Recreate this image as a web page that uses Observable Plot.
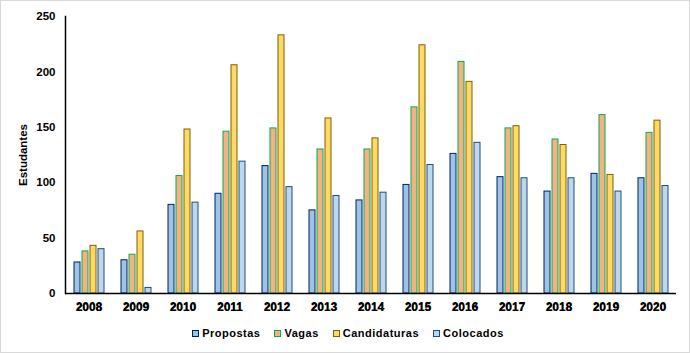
<!DOCTYPE html>
<html>
<head>
<meta charset="utf-8">
<script src="https://cdn.jsdelivr.net/npm/d3@7"></script>
<script src="https://cdn.jsdelivr.net/npm/@observablehq/plot@0.6"></script>
<style>
  html, body { margin: 0; padding: 0; background: #fff; }
  #wrap { position: relative; width: 690px; height: 353px; box-sizing: border-box; border: 1px solid #d9d9d9; background: #fff; font-family: "Liberation Sans", Arial, sans-serif; }
  #chart svg { display: block; }
  #legend { position: absolute; left: 0; top: 326px; width: 694px; display: flex; justify-content: center; align-items: center; font-weight: bold; font-size: 11px; letter-spacing: 0.5px; color: #000; }
  .item { display: flex; align-items: center; margin: 0 7px; }
  .sw { width: 5px; height: 5px; border: 1px solid; margin-right: 3px; }
</style>
</head>
<body>
<div id="wrap">
  <div id="chart"></div>
  <div id="legend"></div>
</div>
<script>
const years = ["2008","2009","2010","2011","2012","2013","2014","2015","2016","2017","2018","2019","2020"];
const series = ["Propostas","Vagas","Candidaturas","Colocados"];
const propostas    = [28, 30, 80, 90, 115, 75, 84, 98, 126, 105, 92, 108, 104];
const vagas        = [38, 35, 106, 146, 149, 130, 130, 168, 209, 149, 139, 161, 145];
const candidaturas = [43, 56, 148, 206, 233, 158, 140, 224, 191, 151, 134, 107, 156];
const colocados    = [40, 5, 82, 119, 96, 88, 91, 116, 136, 104, 104, 92, 97];
const yTicks = [0, 50, 100, 150, 200, 250];
const fills   = ["#9DC3E6", "#F4B183", "#FFD966", "#BDD7EE"];
const strokes = ["#002060", "#00B050", "#806000", "#1F4E79"];

const values = [propostas, vagas, candidaturas, colocados];
const data = [];
years.forEach((yr, i) => {
  series.forEach((s, j) => data.push({year: yr, series: s, value: values[j][i]}));
});
const strokeOf = Object.fromEntries(series.map((s, j) => [s, strokes[j]]));

const plot = Plot.plot({
  width: 688,
  height: 318,
  marginTop: 15,
  marginBottom: 26,
  marginLeft: 64,
  marginRight: 13,
  style: {fontFamily: "'Liberation Sans', Arial, sans-serif", fontSize: "11.5px", fontWeight: "bold", color: "#000", background: "#fff"},
  fx: {domain: years, padding: 0, label: null, axis: "bottom"},
  x: {domain: series, paddingInner: 0.26, paddingOuter: 0.95, axis: null},
  y: {domain: [0, 250], label: null},
  color: {domain: series, range: fills},
  marks: [
    Plot.barY(data, {fx: "year", x: "series", y: "value", fill: "series", stroke: d => strokeOf[d.series], strokeWidth: 1}),
    Plot.ruleY([0], {stroke: "#000", strokeWidth: 1.5}),
    Plot.frame({anchor: "left", facetAnchor: "left", stroke: "#000", strokeWidth: 1.5}),
    Plot.axisY({ticks: yTicks, tickSize: 0, tickPadding: 10, label: "Estudantes", labelAnchor: "center", labelOffset: 47, labelArrow: false, fontSize: 11.5}),
    Plot.axisFx({anchor: "bottom", tickSize: 0, tickPadding: 9, label: null, fontSize: 12})
  ]
});
document.getElementById("chart").appendChild(plot);

const legend = document.getElementById("legend");
series.forEach((s, j) => {
  const it = document.createElement("div");
  it.className = "item";
  const sw = document.createElement("div");
  sw.className = "sw";
  sw.style.background = fills[j];
  sw.style.borderColor = strokes[j];
  const tx = document.createElement("span");
  tx.textContent = s;
  it.appendChild(sw); it.appendChild(tx);
  legend.appendChild(it);
});
</script>
</body>
</html>
